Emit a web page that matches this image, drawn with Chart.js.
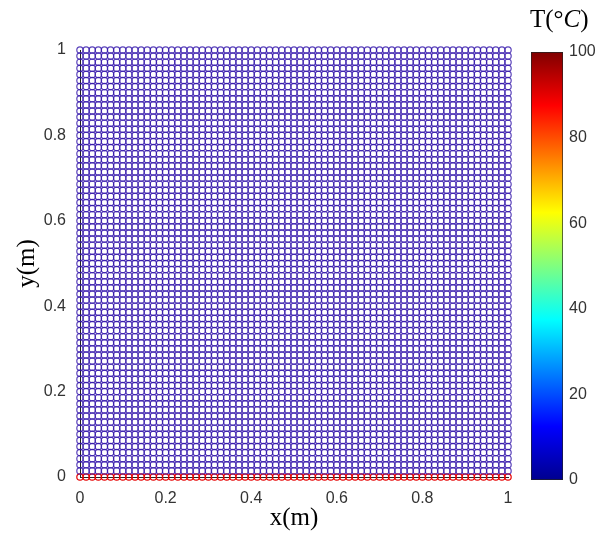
<!DOCTYPE html>
<html>
<head>
<meta charset="utf-8">
<script src="https://cdn.jsdelivr.net/npm/chart.js@4"></script>
<style>
  body { margin: 0; background: #fff; }
  #wrap { position: relative; width: 602px; height: 537px; }
  #main { position: absolute; left: 0; top: 0; }
  #bar { position: absolute; left: 520px; top: 0; }
  #ctitle { position: absolute; left: 530px; top: 5px; font: 25px "Liberation Serif", serif; color: #000; }
</style>
</head>
<body>
<div id="wrap">
  <canvas id="main" width="602" height="537"></canvas>
  <canvas id="bar" width="82" height="537"></canvas>
  <div id="ctitle">T(°<i>C</i>)</div>
</div>
<script>
// particle grid, temperature per node
const nodesPerSide = 71;
const boundaryTemp = 100;   // bottom row
const interiorTemp = 0;
const axisTicks = [0, 0.2, 0.4, 0.6, 0.8, 1];
const colorTicks = [0, 20, 40, 60, 80, 100];

// jet colormap stops
const jetStops = [
  [0, '#00008f'], [0.125, '#0000ff'], [0.375, '#00ffff'],
  [0.625, '#ffff00'], [0.875, '#ff0000'], [1, '#800000']
];

const coldPts = [], hotPts = [];
for (let j = 0; j < nodesPerSide; j++) {
    for (let i = 0; i < nodesPerSide; i++) {
        const p = { x: i / (nodesPerSide - 1), y: j / (nodesPerSide - 1) };
        (j === 0 ? hotPts : coldPts).push(p);
    }
}

const tickFont = { family: 'Liberation Sans, Arial, sans-serif', size: 16 };
const titleFont = { family: 'Liberation Serif, Times New Roman, serif', size: 25 };
const fmt = v => String(v);

new Chart(document.getElementById('main').getContext('2d'), {
    type: 'scatter',
    data: {
        datasets: [{
            label: 'T=' + interiorTemp,
            data: coldPts,
            pointRadius: 3.2,
            borderWidth: 1.2,
            borderColor: 'rgba(50,20,170,0.8)',
            backgroundColor: 'rgba(0,0,0,0)',
            clip: false
        }, {
            label: 'T=' + boundaryTemp,
            data: hotPts,
            pointRadius: 3.2,
            borderWidth: 1.2,
            borderColor: 'rgb(230,0,0)',
            backgroundColor: 'rgba(0,0,0,0)',
            clip: false
        }]
    },
    options: {
        responsive: false,
        animation: false,
        layout: { padding: { top: 50, right: 94, left: 0, bottom: 0 } },
        plugins: { legend: { display: false }, tooltip: { enabled: false } },
        scales: {
            x: {
                min: 0, max: 1,
                afterBuildTicks: s => { s.ticks = axisTicks.map(v => ({ value: v })); },
                afterFit: s => { s.height = 60; },
                grid: { display: false },
                border: { display: true, color: '#222' },
                ticks: { font: tickFont, color: '#333', padding: 4, maxRotation: 0, callback: fmt },
                title: { display: true, text: 'x(m)', font: titleFont, color: '#000', padding: { top: 0 } }
            },
            y: {
                min: 0, max: 1,
                afterBuildTicks: s => { s.ticks = axisTicks.map(v => ({ value: v })); },
                afterFit: s => { s.width = 80; },
                grid: { display: false },
                border: { display: true, color: '#222' },
                ticks: { font: tickFont, color: '#333', padding: 6, callback: fmt },
                title: { display: true, text: 'y(m)', font: titleFont, color: '#000', padding: { top: 12, bottom: 4 } }
            }
        }
    }
});

function jetGradient(context) {
    const chart = context.chart;
    const area = chart.chartArea;
    if (!area) return '#00008f';
    const g = chart.ctx.createLinearGradient(0, area.bottom, 0, area.top);
    jetStops.forEach(s => g.addColorStop(s[0], s[1]));
    return g;
}

new Chart(document.getElementById('bar').getContext('2d'), {
    type: 'bar',
    data: {
        labels: ['T'],
        datasets: [{
            data: [colorTicks[colorTicks.length - 1]],
            backgroundColor: jetGradient,
            borderColor: '#222',
            borderWidth: 1,
            borderSkipped: false,
            barPercentage: 1,
            categoryPercentage: 1
        }]
    },
    options: {
        responsive: false,
        animation: false,
        layout: { padding: { top: 52, left: 11, right: 0, bottom: 57 } },
        plugins: { legend: { display: false }, tooltip: { enabled: false } },
        scales: {
            x: { display: false },
            y: {
                position: 'right',
                min: 0, max: 100,
                afterBuildTicks: s => { s.ticks = colorTicks.map(v => ({ value: v })); },
                afterFit: s => { s.width = 39; },
                grid: { display: false, drawTicks: false },
                border: { display: false },
                ticks: { font: tickFont, color: '#333', padding: 6, callback: fmt }
            }
        }
    }
});
</script>
</body>
</html>
